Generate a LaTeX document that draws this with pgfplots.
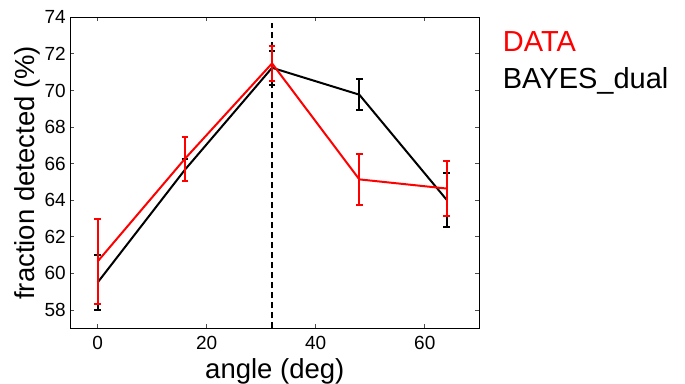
\documentclass[border=0pt]{standalone}
\usepackage{pgfplots}
\pgfplotsset{compat=1.18}
\usepackage{fontspec}
\setmainfont{Liberation Sans}
\begin{document}
\begin{tikzpicture}
\useasboundingbox (-70.3pt,-54.7pt) rectangle (614.7pt,328.3pt);
\begin{axis}[
  at={(0,0)}, anchor=south west,
  scale only axis, width=409pt, height=311pt,
  xmin=-5, xmax=70, ymin=57, ymax=74,
  xtick={0,20,40,60}, ytick={58,60,...,74},
  tick align=inside, tick pos=both,
  major tick length=4pt,
  axis line style={line width=1.2pt},
  every tick/.style={black!70, line width=0.8pt},
  /pgf/number format/assume math mode=true,
  tick label style={font=\fontsize{19}{19}\selectfont},
  xticklabel style={yshift=-4pt},
  yticklabel style={xshift=-1pt},
  label style={font=\fontsize{27.5}{27.5}\selectfont},
  xlabel={angle (deg)},
  ylabel={fraction detected (\%)},
  xlabel style={yshift=-2pt},
  ylabel style={yshift=-2pt},
  clip=false,
]
\addplot[black, dash pattern=on 6pt off 4pt, line width=2pt] coordinates {(32,57) (32,73.7)};
\addplot[black, line width=2pt, mark=none,
  error bars/.cd, y dir=both, y explicit,
  error bar style={line width=2pt},
  error mark options={rotate=90, mark size=3.3pt, line width=2pt}]
  coordinates {
  (0,59.5) +- (0,1.5)
  (16,65.66) +- (0,0.6)
  (32,71.24) +- (0,0.94)
  (48,69.77) +- (0,0.86)
  (64,64.03) +- (0,1.48)
  };
\addplot[red, line width=2pt, mark=none,
  error bars/.cd, y dir=both, y explicit,
  error bar style={line width=2pt},
  error mark options={rotate=90, mark size=3.3pt, line width=2pt}]
  coordinates {
  (0,60.65) +- (0,2.31)
  (16,66.26) +- (0,1.21)
  (32,71.48) +- (0,0.97)
  (48,65.14) +- (0,1.4)
  (64,64.64) +- (0,1.49)
  };
\node[anchor=base west, red, font=\fontsize{29}{29}\selectfont, inner sep=0pt] at (rel axis cs:1.0,1.0) [xshift=23.4pt, yshift=-34.4pt] {DATA};
\node[anchor=base west, black, font=\fontsize{29}{29}\selectfont, inner sep=0pt] at (rel axis cs:1.0,1.0) [xshift=23.4pt, yshift=-71pt] {BAYES\_dual};
\end{axis}
\end{tikzpicture}
\end{document}
